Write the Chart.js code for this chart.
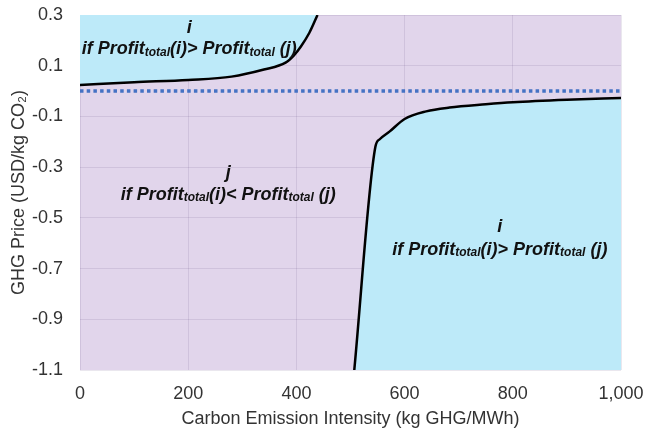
<!DOCTYPE html>
<html>
<head>
<meta charset="utf-8">
<script src="https://cdn.jsdelivr.net/npm/chart.js@4"></script>
<style>
  html, body { margin:0; padding:0; background:#fff; }
  #wrap { width:645px; height:430px; }
</style>
</head>
<body>
<div id="wrap"><canvas id="myChart" width="645" height="430"></canvas></div>
<script>
(function(){
  'use strict';

  // upper boundary: i wins above this curve
  const upperX = [0, 100, 200, 280, 340, 380, 395, 408, 424, 439];
  const upperY = [0.024, 0.035, 0.044, 0.057, 0.085, 0.112, 0.14, 0.175, 0.23, 0.3];

  // lower boundary: i wins below this curve
  const lowerX = [507, 546, 554, 572, 600, 640, 683, 750, 800, 900, 1000];
  const lowerY = [-1.1, -0.22, -0.19, -0.16, -0.11, -0.08, -0.065, -0.052, -0.044, -0.034, -0.027];

  // zero price line
  const zeroX = [0, 1000];
  const zeroY = [0, 0];

  const xTicks = [0, 200, 400, 600, 800, 1000];
  const yTicks = [-1.1, -0.9, -0.7, -0.5, -0.3, -0.1, 0.1, 0.3];

  // region labels: winner, x, y of winner line, y of condition line, sign
  const labels = [
    { who:'i', x:202, y1:0.248, y2:0.165, sign:'>' },
    { who:'j', x:274, y1:-0.325, y2:-0.41, sign:'<' },
    { who:'i', x:776, y1:-0.536, y2:-0.627, sign:'>' }
  ];

  const PURPLE = '#e1d5eb';
  const CYAN = '#bdeaf9';
  const FONT = '"Liberation Sans", Arial, sans-serif';

  function pts(xs, ys){ return xs.map((x, k) => ({x:x, y:ys[k]})); }

  const bgPlugin = {
    id:'plotBg',
    beforeDraw(chart){
      const a = chart.chartArea, c = chart.ctx;
      c.save();
      c.fillStyle = PURPLE;
      c.fillRect(a.left, a.top, a.right - a.left, a.bottom - a.top);
      c.restore();
    }
  };

  const textPlugin = {
    id:'regionText',
    afterDraw(chart){
      const c = chart.ctx, sx = chart.scales.x, sy = chart.scales.y;
      const big = 'italic bold 18px ' + FONT;
      const small = 'italic bold 12px ' + FONT;
      c.save();
      c.fillStyle = '#111';
      c.textBaseline = 'middle';
      labels.forEach(l => {
        const cx = sx.getPixelForValue(l.x);
        c.font = big;
        c.textAlign = 'center';
        c.fillText(l.who, cx, sy.getPixelForValue(l.y1));
        const segs = [
          ['if Profit', false], ['total', true], ['(i)' + l.sign + ' Profit', false],
          ['total', true], [' (j)', false]
        ];
        let w = 0;
        segs.forEach(s => { c.font = s[1] ? small : big; w += c.measureText(s[0]).width; });
        let px = cx - w / 2;
        const py = sy.getPixelForValue(l.y2);
        c.textAlign = 'left';
        segs.forEach(s => {
          c.font = s[1] ? small : big;
          c.fillText(s[0], px, s[1] ? py + 3 : py);
          px += c.measureText(s[0]).width;
        });
      });
      c.restore();
    }
  };

  const ctx = document.getElementById('myChart').getContext('2d');
  new Chart(ctx, {
    type:'scatter',
    data:{
      datasets:[
        { label:'upper', data:pts(upperX, upperY), showLine:true, borderColor:'#000', borderWidth:2.5,
          backgroundColor:CYAN, fill:'end', pointRadius:0, cubicInterpolationMode:'monotone' },
        { label:'lower', data:pts(lowerX, lowerY), showLine:true, borderColor:'#000', borderWidth:2.5,
          backgroundColor:CYAN, fill:'start', pointRadius:0, cubicInterpolationMode:'monotone' },
        { label:'zero', data:pts(zeroX, zeroY), showLine:true, borderColor:'#4472c4', borderWidth:3.5,
          borderDash:[3.5, 3.2], fill:false, pointRadius:0 }
      ]
    },
    options:{
      responsive:false,
      animation:false,
      layout:{ padding:{ left:0, right:24, top:15, bottom:0 } },
      plugins:{ legend:{display:false}, tooltip:{enabled:false} },
      scales:{
        x:{
          type:'linear', min:0, max:1000, z:1,
          afterBuildTicks(s){ s.ticks = xTicks.map(v => ({value:v})); },
          afterFit(s){ s.height = 60; s.paddingLeft = 0; s.paddingRight = 0; },
          ticks:{ color:'#333', font:{family:FONT, size:18}, padding:13, maxRotation:0,
            callback:v => v.toLocaleString('en-US') },
          grid:{ color:'rgba(90,70,120,0.13)', drawTicks:false },
          border:{ display:false },
          title:{ display:true, text:'Carbon Emission Intensity (kg GHG/MWh)', color:'#333',
            font:{family:FONT, size:18}, padding:{top:0, bottom:0} }
        },
        y:{
          type:'linear', min:-1.1, max:0.3, z:1,
          afterBuildTicks(s){ s.ticks = yTicks.map(v => ({value:v})); },
          afterFit(s){ s.width = 80; s.paddingTop = 0; s.paddingBottom = 0; },
          ticks:{ color:'#333', font:{family:FONT, size:18}, padding:17,
            callback:v => v.toFixed(1) },
          grid:{ color:'rgba(90,70,120,0.13)', drawTicks:false },
          border:{ display:false },
          title:{ display:true, text:'GHG Price (USD/kg CO\u2082)', color:'#333',
            font:{family:FONT, size:18}, padding:{top:8, bottom:0} }
        }
      }
    },
    plugins:[bgPlugin, textPlugin]
  });
})();
</script>
</body>
</html>
